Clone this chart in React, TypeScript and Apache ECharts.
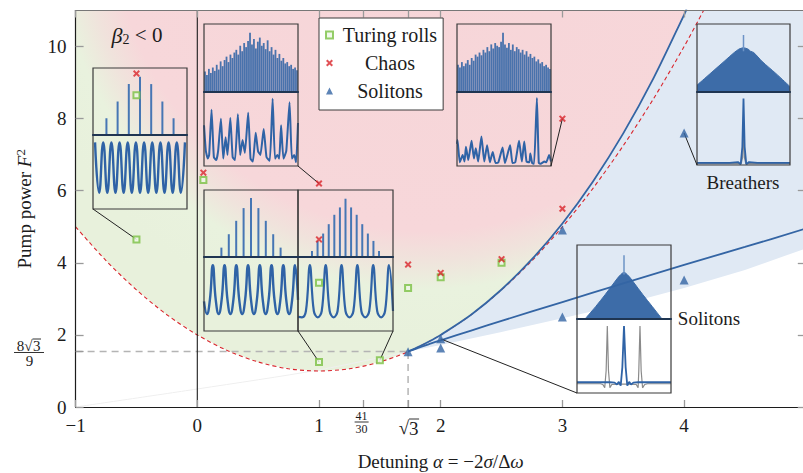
import React, { useEffect, useRef } from 'react';
import * as echarts from 'echarts';

const FONT = '"Liberation Serif", "DejaVu Serif", serif';
const INK = '#1c1c1c';
const CURVE_BLUE = '#3465a4';
const TRACE_BLUE = '#2f63a6';
const SPEC_BLUE = '#4676b4';
const DENSE_BLUE = '#3a69a8';
const RED = '#d9252c';
const GREEN = '#7bc043';
const X_PATH = 'path://M2,0L5,3L8,0L10,2L7,5L10,8L8,10L5,7L2,10L0,8L3,5L0,2Z';

// ---- phase-diagram markers (alpha, F^2) ----
const TURING_ROLLS = [[-0.5, 4.65], [-0.5, 8.65], [0.05, 6.3], [1, 3.45], [1, 1.25], [1.5, 1.3], [1.732, 3.3], [2, 3.6], [2.5, 4.0]];
const CHAOS = [[-0.5, 9.25], [0.05, 6.5], [1, 4.65], [1, 6.2], [1.732, 3.95], [2, 3.72], [2.5, 4.1], [3, 5.5], [3, 8.0]];
const SOLITONS = [[1.732, 1.53], [2, 1.89], [2, 1.64], [3, 4.91], [3, 2.5], [4, 3.52], [4, 7.6]];

// ---- boundaries ----
const THRESHOLD = [[-1, 5], [-0.75, 4.06], [-0.5, 3.25], [-0.25, 2.56], [0, 2], [0.25, 1.56], [0.5, 1.25], [0.75, 1.06], [1, 1], [1.25, 1.06], [1.5, 1.25], [1.75, 1.56], [2, 2], [2.25, 2.56], [2.5, 3.25], [2.75, 4.06], [3, 5], [3.25, 6.06], [3.5, 7.25], [3.75, 8.56], [4, 10], [4.16, 11]];
const UPPER_FOLD = [[1.732, 1.54], [1.8, 1.64], [1.9, 1.81], [2, 2], [2.25, 2.56], [2.5, 3.26], [2.75, 4.1], [3, 5.09], [3.25, 6.25], [3.5, 7.59], [3.75, 9.13], [4, 10.88], [4.02, 11.03]];
const LOWER_FOLD = [[1.732, 1.54], [1.8, 1.62], [1.9, 1.74], [2, 1.85], [2.25, 2.12], [2.5, 2.39], [3, 2.91], [3.5, 3.43], [4, 3.94], [4.5, 4.44], [5, 4.95]];
const SOLITON_EDGE = [[1.732, 1.54], [2, 1.72], [2.5, 2.08], [3, 2.46], [3.5, 2.85], [4, 3.3], [4.5, 3.8], [5, 4.4]];
const FAINT_EDGE = [[-1, 0], [0, 0.5], [1, 1.03], [1.732, 1.54]];
const ALPHA_ZERO = [[0, 0], [0, 11]];

// ---- axis ticks ----
const SQRT3 = 1.7320508;
const CRIT_F2 = 1.5396;
const CRIT_H = [[-1, CRIT_F2], [SQRT3, CRIT_F2]];
const CRIT_V = [[SQRT3, 0], [SQRT3, CRIT_F2]];
const X_TICKS = [-1, 0, 1, 41 / 30, SQRT3, 2, 3, 4];
const X_LABELS = [-1, 0, 1, 2, 3, 4];
const Y_LABELS = [0, 2, 4, 6, 8, 10];

// ---- inset data ----
const A_MODES = [-3, -2, -1, 0, 1, 2, 3];
const A_POWER = [0.25, 0.5, 0.76, 0.87, 0.76, 0.5, 0.25];
const A_WAVE = [0.9, 0.22, 0.9, 0.22, 0.9, 0.22, 0.9, 0.22, 0.9, 0.22, 0.9, 0.22, 0.9, 0.22, 0.9, 0.22, 0.9, 0.22, 0.9, 0.22, 0.9, 0.22, 0.9];

const B_SPEC = [0.30, 0.25, 0.34, 0.28, 0.36, 0.31, 0.40, 0.33, 0.45, 0.38, 0.47, 0.52, 0.44, 0.55, 0.50, 0.58, 0.62, 0.55, 0.68, 0.60, 0.72, 0.66, 0.75, 0.87, 0.70, 0.78, 0.64, 0.74, 0.80, 0.68, 0.72, 0.63, 0.76, 0.60, 0.66, 0.55, 0.62, 0.50, 0.56, 0.46, 0.50, 0.42, 0.44, 0.38, 0.40, 0.34, 0.36, 0.32];
const B_TRACE = [[0, 0.55], [2, 0.2], [4, 0.1], [5.5, 0.15], [8, 0.76], [10.5, 0.12], [13, 0.08], [15, 0.2], [18, 0.64], [20.5, 0.1], [23, 0.39], [25, 0.15], [28, 0.65], [30.5, 0.12], [33, 0.08], [36, 0.7], [38.5, 0.15], [41, 0.35], [43.5, 0.18], [47, 0.72], [49.5, 0.1], [52, 0.06], [55, 0.45], [57.5, 0.2], [60, 0.15], [63.5, 0.5], [66.5, 0.12], [70, 0.07], [73, 0.91], [75.5, 0.1], [78, 0.15], [80, 0.1], [82, 0.55], [84.5, 0.1], [87.5, 0.2], [91, 0.86], [93.5, 0.1], [96, 0.15], [98, 0.05], [100, 0.58]];

const C_MODES = [-4, -3, -2, -1, 0, 1, 2, 3, 4];
const C_POWER = [0.14, 0.34, 0.54, 0.73, 0.88, 0.73, 0.54, 0.34, 0.14];
const C_WAVE = [0.40, 0.23, 0.42, 0.89, 0.42, 0.23, 0.42, 0.89, 0.42, 0.23, 0.42, 0.89, 0.42, 0.23, 0.42, 0.89, 0.42, 0.23, 0.42, 0.89, 0.42, 0.23, 0.42, 0.89, 0.42, 0.23, 0.42, 0.89, 0.42, 0.23, 0.42, 0.89, 0.42];

const D_MODES = [-6, -5, -4, -3, -2, -1, 0, 1, 2, 3, 4, 5, 6];
const D_POWER = [0.09, 0.24, 0.35, 0.49, 0.63, 0.74, 0.87, 0.74, 0.63, 0.49, 0.35, 0.24, 0.09];
const D_WAVE = [0.19, 0.185, 0.27, 0.89, 0.27, 0.185, 0.27, 0.89, 0.27, 0.185, 0.27, 0.89, 0.27, 0.185, 0.27, 0.89, 0.27, 0.185, 0.27, 0.89, 0.27, 0.185, 0.27, 0.89, 0.27];

const E_SPEC = [0.40, 0.36, 0.44, 0.38, 0.42, 0.47, 0.40, 0.50, 0.46, 0.55, 0.52, 0.58, 0.54, 0.62, 0.58, 0.66, 0.60, 0.70, 0.64, 0.72, 0.68, 0.66, 0.74, 0.87, 0.70, 0.65, 0.72, 0.62, 0.70, 0.60, 0.66, 0.63, 0.58, 0.62, 0.55, 0.60, 0.52, 0.56, 0.50, 0.52, 0.45, 0.48, 0.42, 0.44, 0.38, 0.40, 0.36, 0.34];
const E_TRACE = [[0, 0.3], [0.5, 0.35], [3, 0.05], [6, 0.15], [8, 0.06], [9.5, 0.26], [12, 0.08], [15.5, 0.34], [18, 0.1], [20, 0.24], [22.5, 0.06], [26, 0.4], [29, 0.06], [32, 0.28], [35, 0.05], [38, 0.19], [41, 0.04], [44, 0.05], [48.5, 0.25], [51, 0.04], [56.5, 0.28], [59, 0.04], [62, 0.05], [66, 0.34], [69, 0.06], [71.5, 0.33], [74, 0.06], [77, 0.05], [78, 0.17], [80, 0.04], [82, 0.03], [85, 0.92], [87, 0.04], [89, 0.03], [93, 0.06], [95, 0.05], [98, 0.15], [100, 0.06]];

const F_SPEC = [[-1, 0.1], [-0.7, 0.28], [-0.4, 0.46], [-0.2, 0.58], [-0.1, 0.63], [0, 0.65], [0.1, 0.63], [0.15, 0.6], [0.22, 0.58], [0.4, 0.45], [0.7, 0.27], [1, 0.08]];
const F_SPIKE = [[0, 0.6], [0, 0.84]];
const F_PULSE = [[-1, 0.03], [-0.3, 0.03], [-0.12, 0.04], [-0.06, 0.01], [-0.025, 0.25], [0, 0.91], [0.025, 0.25], [0.06, 0.01], [0.12, 0.04], [0.3, 0.03], [1, 0.03]];
const F_PULSE_GREY = [[-1, 0.02], [-0.05, 0.02], [-0.02, 0.1], [0, 0.45], [0.02, 0.1], [0.05, 0.02], [1, 0.02]];

const G_SPEC = [[-0.83, 0], [-0.6, 0.17], [-0.4, 0.33], [-0.2, 0.5], [-0.1, 0.58], [0, 0.63], [0.1, 0.58], [0.2, 0.5], [0.4, 0.33], [0.6, 0.17], [0.81, 0]];
const G_SPIKE = [[0, 0.6], [0, 0.86]];
const G_PULSE = [[-1, 0.145], [-0.3, 0.145], [-0.2, 0.14], [-0.15, 0.115], [-0.11, 0.15], [-0.07, 0.1], [-0.035, 0.35], [0, 0.905], [0.035, 0.35], [0.07, 0.1], [0.11, 0.15], [0.15, 0.115], [0.2, 0.14], [0.3, 0.145], [1, 0.145]];
const G_PULSE_GREY = [[-1, 0.125], [-0.5, 0.125], [-0.45, 0.115], [-0.41, 0.07], [-0.38, 0.3], [-0.355, 0.905], [-0.33, 0.3], [-0.3, 0.07], [-0.26, 0.115], [-0.1, 0.12], [0.1, 0.12], [0.26, 0.115], [0.3, 0.07], [0.315, 0.3], [0.34, 0.905], [0.365, 0.3], [0.395, 0.07], [0.44, 0.115], [0.5, 0.125], [1, 0.125]];

// ---- inset layout (pixels) ----
const INSETS = [
  { x: 93, w: 94, top: 68, mid: 135, bottom: 209, corner: 'bl', target: TURING_ROLLS[0] },
  { x: 204, w: 94, top: 24, mid: 92, bottom: 166, corner: 'br', target: CHAOS[3] },
  { x: 204, w: 94, top: 190, mid: 257, bottom: 331, corner: 'br', target: TURING_ROLLS[4] },
  { x: 298, w: 95, top: 190, mid: 257, bottom: 331, corner: 'br', target: TURING_ROLLS[5] },
  { x: 457, w: 94, top: 24, mid: 92, bottom: 166, corner: 'br', target: CHAOS[8] },
  { x: 697, w: 93, top: 24, mid: 92, bottom: 165, corner: 'bl', target: SOLITONS[6] },
  { x: 577, w: 94, top: 245, mid: 319, bottom: 393, corner: 'bl', target: SOLITONS[1] },
];

const idx = (arr: any[]) => arr.map((_, i) => String(i));
const pairs = (xs: number[], ys: number[]) => xs.map((x, i) => [x, ys[i]]);

const INSET_X: any[] = [
  [{ type: 'value', min: -4.2, max: 4.2 }, { type: 'category', data: idx(A_WAVE), boundaryGap: true }],
  [{ type: 'category', data: idx(B_SPEC), boundaryGap: true }, { type: 'value', min: 0, max: 100 }],
  [{ type: 'value', min: -6.35, max: 6.35 }, { type: 'category', data: idx(C_WAVE), boundaryGap: false }],
  [{ type: 'value', min: -8.5, max: 8.5 }, { type: 'category', data: idx(D_WAVE), boundaryGap: false }],
  [{ type: 'category', data: idx(E_SPEC), boundaryGap: true }, { type: 'value', min: 0, max: 100 }],
  [{ type: 'value', min: -1, max: 1 }, { type: 'value', min: -1, max: 1 }],
  [{ type: 'value', min: -1, max: 1 }, { type: 'value', min: -1, max: 1 }],
];

function bar(ax: number, data: any[], extra: any = {}) {
  return { type: 'bar', xAxisIndex: ax, yAxisIndex: ax, data, silent: true, z: 3, itemStyle: { color: SPEC_BLUE }, ...extra };
}
function line(ax: number, data: any[], color: string, width: number, smooth: number | boolean, extra: any = {}) {
  return { type: 'line', xAxisIndex: ax, yAxisIndex: ax, data, silent: true, z: 3, symbol: 'none', showSymbol: false, smooth, lineStyle: { color, width }, ...extra };
}

function buildOption(): any {
  const grids: any[] = [{ left: 75.6, top: 10.5, width: 730.2, height: 396.5, outerBoundsMode: 'none', containLabel: false }];
  const axisFont = { color: INK, fontFamily: FONT, fontSize: 19 };
  const tickStyle = { color: '#9a9a9a', width: 1.3 };
  const xAxes: any[] = [
    {
      gridIndex: 0, type: 'value', min: -1, max: 5, position: 'bottom', z: 10,
      axisLine: { show: true, onZero: false, lineStyle: { color: INK, width: 1.2 } },
      axisTick: { show: true, inside: true, length: 7, customValues: X_TICKS, lineStyle: tickStyle },
      axisLabel: { show: true, customValues: X_LABELS, margin: 9, ...axisFont, formatter: (v: number) => (v < 0 ? '\u2212' + Math.abs(v) : String(v)) },
      splitLine: { show: false },
      name: 'Detuning {i|\u03b1} = \u22122{i|\u03c3}/\u0394{i|\u03c9}', nameLocation: 'middle', nameGap: 45, nameMoveOverlap: false,
      nameTextStyle: { ...axisFont, rich: { i: { ...axisFont, fontStyle: 'italic' } } },
    },
    {
      gridIndex: 0, type: 'value', min: -1, max: 5, position: 'top', z: 10,
      axisLine: { show: true, onZero: false, lineStyle: { color: '#777', width: 1.2 } },
      axisTick: { show: true, inside: true, length: 7, customValues: X_TICKS, lineStyle: tickStyle },
      axisLabel: { show: false }, splitLine: { show: false },
    },
  ];
  const yAxes: any[] = [
    {
      gridIndex: 0, type: 'value', min: 0, max: 11, position: 'left', z: 10,
      axisLine: { show: true, onZero: false, lineStyle: { color: INK, width: 1.2 } },
      axisTick: { show: true, inside: true, length: 8, customValues: [...Y_LABELS, CRIT_F2], lineStyle: tickStyle },
      axisLabel: { show: true, customValues: Y_LABELS, margin: 9, ...axisFont },
      splitLine: { show: false },
      name: 'Pump power {i|F}{s|2}', nameLocation: 'middle', nameGap: 40, nameRotate: 90, nameMoveOverlap: false,
      nameTextStyle: { ...axisFont, rich: { i: { ...axisFont, fontStyle: 'italic' }, s: { ...axisFont, fontSize: 13, padding: [0, 0, 9, 0] } } },
    },
    {
      gridIndex: 0, type: 'value', min: 0, max: 11, position: 'right', z: 10,
      axisLine: { show: true, onZero: false, lineStyle: { color: '#777', width: 1.2 } },
      axisTick: { show: true, inside: true, length: 8, customValues: Y_LABELS, lineStyle: tickStyle },
      axisLabel: { show: false }, splitLine: { show: false },
    },
  ];

  INSETS.forEach((b, k) => {
    const common = { show: true, borderColor: '#3a3a3a', borderWidth: 1.2, backgroundColor: 'transparent', z: 5, outerBoundsMode: 'none', containLabel: false };
    grids.push({ ...common, left: b.x, top: b.top, width: b.w, height: b.mid - b.top });
    grids.push({ ...common, left: b.x, top: b.mid, width: b.w, height: b.bottom - b.mid });
    [0, 1].forEach((j) => {
      xAxes.push({
        gridIndex: 1 + 2 * k + j, ...INSET_X[k][j], z: 6,
        axisLine: { show: j === 0, onZero: false, lineStyle: { color: '#1f3552', width: 2 } },
        axisTick: { show: false }, axisLabel: { show: false }, splitLine: { show: false },
      });
      yAxes.push({ gridIndex: 1 + 2 * k + j, type: 'value', min: 0, max: 1, show: false, splitLine: { show: false } });
    });
  });

  const upperRegion = [...THRESHOLD.filter((p) => p[0] < 1.73), ...UPPER_FOLD, [-1, 11.03]];
  const blueRegion = [...UPPER_FOLD, [5, 11.03], ...[...SOLITON_EDGE].reverse()];
  const regionFill = new echarts.graphic.RadialGradient(424, -80, 420, [
    { offset: 0, color: '#f6d5d8' },
    { offset: 0.74, color: '#f7d7da' },
    { offset: 0.81, color: '#f0e3dc' },
    { offset: 0.88, color: '#e9f2de' },
    { offset: 1, color: '#e8f1dc' },
  ], true);

  const series: any[] = [
    {
      type: 'custom', coordinateSystem: 'cartesian2d', xAxisIndex: 0, yAxisIndex: 0, data: [[0, 0]], z: 1, silent: true, clip: true,
      renderItem: (_p: any, api: any) => ({
        type: 'group',
        children: [
          { type: 'polygon', shape: { points: upperRegion.map((p) => api.coord(p)) }, style: { fill: regionFill } },
          { type: 'polygon', shape: { points: blueRegion.map((p) => api.coord(p)) }, style: { fill: '#e0e9f4' } },
        ],
      }),
    },
    line(0, FAINT_EDGE, '#efefef', 1, 0.3, { z: 2 }),
    line(0, THRESHOLD, RED, 1.1, 0.3, { z: 3, lineStyle: { color: RED, width: 1.1, type: [4, 3] } }),
    line(0, CRIT_H, '#b4b4b4', 1.5, false, { z: 3, lineStyle: { color: '#b4b4b4', width: 1.5, type: [7, 5] } }),
    line(0, CRIT_V, '#b4b4b4', 1.5, false, { z: 3, lineStyle: { color: '#b4b4b4', width: 1.5, type: [7, 5] } }),
    line(0, ALPHA_ZERO, INK, 1.1, false, { z: 4 }),
    line(0, UPPER_FOLD, CURVE_BLUE, 1.8, 0.3, { z: 4 }),
    line(0, LOWER_FOLD, CURVE_BLUE, 1.8, 0.3, { z: 4 }),
    // insets
    bar(2, pairs(A_MODES, A_POWER), { barWidth: 2 }),
    line(3, A_WAVE, TRACE_BLUE, 2.4, 0.5),
    bar(4, B_SPEC, { barCategoryGap: '8%', itemStyle: { color: DENSE_BLUE, opacity: 0.92 } }),
    line(5, B_TRACE, TRACE_BLUE, 2, 0.15),
    bar(6, pairs(C_MODES, C_POWER), { barWidth: 2 }),
    line(7, C_WAVE, TRACE_BLUE, 2.4, 0.5),
    bar(8, pairs(D_MODES, D_POWER), { barWidth: 2 }),
    line(9, D_WAVE, TRACE_BLUE, 2.2, 0.4),
    bar(10, E_SPEC, { barCategoryGap: '8%', itemStyle: { color: DENSE_BLUE, opacity: 0.92 } }),
    line(11, E_TRACE, TRACE_BLUE, 2, 0.15),
    line(12, F_SPEC, '#3d6ca8', 1, 0.3, { areaStyle: { color: '#3d6ca8', opacity: 1 } }),
    line(12, F_SPIKE, '#6d93c6', 1.5, false),
    line(13, F_PULSE_GREY, '#8a8a8a', 1.2, false),
    line(13, F_PULSE, TRACE_BLUE, 1.8, false),
    line(14, G_SPEC, '#3d6ca8', 1, 0.3, { areaStyle: { color: '#3d6ca8', opacity: 1 } }),
    line(14, G_SPIKE, '#6d93c6', 1.5, false),
    line(15, G_PULSE_GREY, '#8a8a8a', 1.2, false),
    line(15, G_PULSE, TRACE_BLUE, 1.8, false),
    // markers
    { type: 'scatter', name: 'Turing rolls', xAxisIndex: 0, yAxisIndex: 0, data: TURING_ROLLS, symbol: 'rect', symbolSize: 6, itemStyle: { color: '#eef7e6', borderColor: GREEN, borderWidth: 2 }, z: 8, silent: true },
    { type: 'scatter', name: 'Chaos', xAxisIndex: 0, yAxisIndex: 0, data: CHAOS, symbol: X_PATH, symbolSize: 7, itemStyle: { color: RED }, z: 8, silent: true },
    { type: 'scatter', name: 'Solitons', xAxisIndex: 0, yAxisIndex: 0, data: SOLITONS, symbol: 'triangle', symbolSize: 9, itemStyle: { color: CURVE_BLUE }, z: 8, silent: true },
  ];

  return {
    animation: false,
    backgroundColor: '#ffffff',
    grid: grids,
    xAxis: xAxes,
    yAxis: yAxes,
    legend: {
      show: true, orient: 'vertical', left: 319, top: 18, z: 12,
      padding: [7, 6, 9, 6], itemGap: 8, itemWidth: 7, itemHeight: 7,
      backgroundColor: '#ffffff', borderColor: '#3a3a3a', borderWidth: 1, borderRadius: 0,
      selectedMode: false,
      data: ['Turing rolls', 'Chaos', 'Solitons'],
      formatter: (n: string) => `{t|${n}}`,
      textStyle: { color: INK, fontFamily: FONT, fontSize: 20, rich: { t: { width: 104, align: 'center', color: INK, fontFamily: FONT, fontSize: 20 } } },
    },
    series,
  };
}

function buildGraphic(chart: any): any[] {
  const toPx = (p: number[]) => chart.convertToPixel({ gridIndex: 0 }, p) as number[];
  const els: any[] = [];
  const txt = (text: string, x: number, y: number, size: number, extra: any = {}) => ({
    type: 'text', x, y, z: 20, silent: true,
    style: { text, fill: INK, fontFamily: FONT, fontSize: size, align: 'center', verticalAlign: 'middle', ...extra },
  });
  const seg = (x1: number, y1: number, x2: number, y2: number, w = 1, color = INK) => ({
    type: 'line', z: 20, silent: true, shape: { x1, y1, x2, y2 }, style: { stroke: color, lineWidth: w },
  });

  INSETS.forEach((b) => {
    const cx = b.corner === 'bl' ? b.x : b.x + b.w;
    const [tx, ty] = toPx(b.target);
    els.push({ ...seg(cx, b.bottom, tx, ty, 1, '#222'), z: 7 });
  });

  // 41/30 tick label
  const xf = toPx([41 / 30, 0])[0] - 2;
  els.push(txt('41', xf, 416, 12));
  els.push(seg(xf - 7, 422, xf + 7, 422, 0.9));
  els.push(txt('30', xf, 428.5, 12));

  // sqrt(3) tick label
  const xs = toPx([SQRT3, 0])[0] + 1;
  els.push(txt('\u221a', xs, 427, 19, { align: 'right' }));
  els.push(txt('3', xs, 428, 19, { align: 'left' }));
  els.push(seg(xs, 419, xs + 10, 419, 0.9));

  // 8 sqrt(3) / 9 label
  const yc = toPx([0, CRIT_F2])[1];
  els.push(txt('8\u221a', 32.5, yc - 6, 15, { align: 'right' }));
  els.push(txt('3', 33, yc - 5.5, 15, { align: 'left' }));
  els.push(seg(32.5, yc - 12.5, 41, yc - 12.5, 0.9));
  els.push(seg(14, yc + 1, 44, yc + 1, 0.9));
  els.push(txt('9', 29.5, yc + 9.5, 15));

  // region labels
  els.push(txt('{b|\u03b2}{s|2}{n| < 0}', 137, 35, 21, {
    rich: {
      b: { fontFamily: FONT, fontSize: 22, fontStyle: 'italic', fill: INK },
      s: { fontFamily: FONT, fontSize: 14, padding: [9, 0, 0, 0], fill: INK },
      n: { fontFamily: FONT, fontSize: 21, fill: INK },
    },
  }));
  els.push(txt('Breathers', 743, 182, 19));
  els.push(txt('Solitons', 709, 318, 19));
  return els;
}

export default function App() {
  const ref = useRef<HTMLDivElement>(null);
  useEffect(() => {
    const chart = echarts.init(ref.current as HTMLDivElement, undefined, { renderer: 'svg' });
    chart.setOption(buildOption());
    chart.setOption({ graphic: { elements: buildGraphic(chart) } });
    return () => chart.dispose();
  }, []);
  return <div ref={ref} style={{ position: 'absolute', left: 0, top: 0, width: 803, height: 473, background: '#fff' }} />;
}
